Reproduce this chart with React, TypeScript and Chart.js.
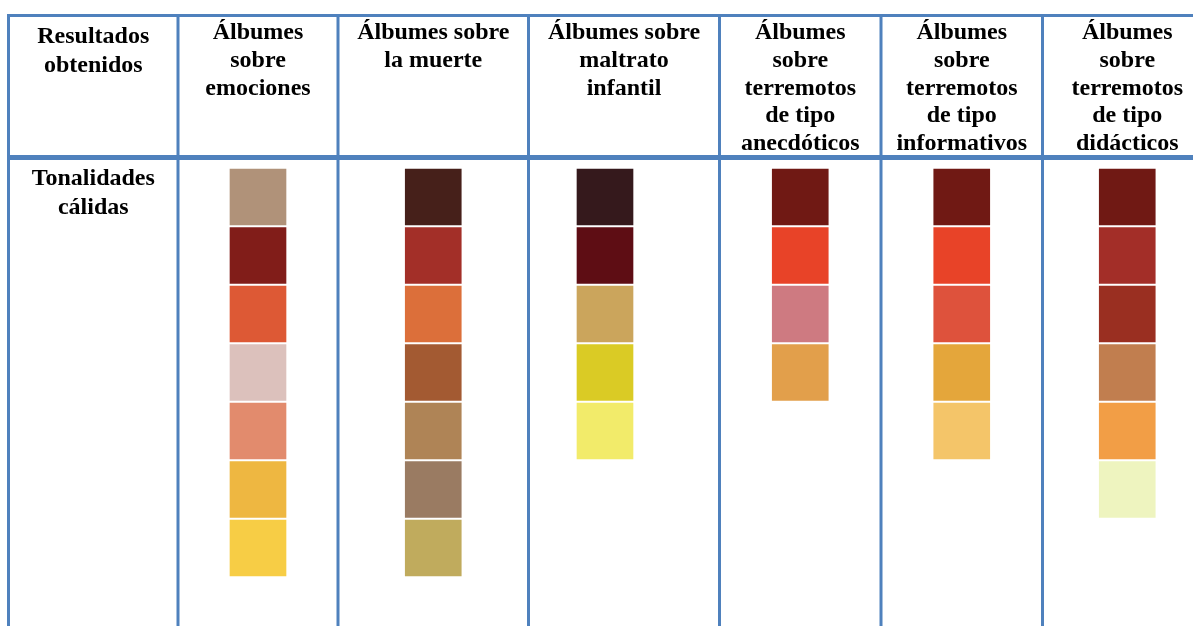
import React, { useEffect, useRef } from "react";
import { Chart, registerables } from "chart.js";

Chart.register(...registerables);

// ---------- DATA ----------
const ROW_HEADER = ["Resultados", "obtenidos"];
const ROW_LABEL = ["Tonalidades", "cálidas"];

const COLUMN_HEADERS: string[][] = [
  ["Álbumes", "sobre", "emociones"],
  ["Álbumes sobre", "la muerte"],
  ["Álbumes sobre", "maltrato", "infantil"],
  ["Álbumes", "sobre", "terremotos", "de tipo", "anecdóticos"],
  ["Álbumes", "sobre", "terremotos", "de tipo", "informativos"],
  ["Álbumes", "sobre", "terremotos", "de tipo", "didácticos"],
];

const EMOCIONES = ["#B09279", "#811D19", "#DD5935", "#DCC1BC", "#E28B6D", "#EEB741", "#F7CD45"];
const MUERTE = ["#46201A", "#A32F28", "#DC6F3A", "#A35A32", "#AF8456", "#9A7B62", "#C0AB5D"];
const MALTRATO = ["#35191C", "#5E0D14", "#CBA55C", "#DACB25", "#F2EB6A"];
const ANECDOTICOS = ["#701914", "#E84328", "#CE7A81", "#E29F4B"];
const INFORMATIVOS = ["#701914", "#E84328", "#DE523C", "#E4A63B", "#F4C569"];
const DIDACTICOS = ["#701914", "#A32E28", "#9A2F21", "#C17E4F", "#F29E46", "#EEF4BF"];

const SWATCH_COLUMNS = [EMOCIONES, MUERTE, MALTRATO, ANECDOTICOS, INFORMATIVOS, DIDACTICOS];

// ---------- LAYOUT / STYLE ----------
const W = 1193;
const H = 626;
const GRID_X = [8.5, 178, 338, 528.5, 719.5, 881, 1042.5, 1212]; // table column boundaries (x-scale units)
const CELL_ALIGN_SHIFT = [0, 0, -19, 0, 0, 0]; // horizontal alignment of swatches within each cell
const Y_MIN = -169 / 58.5; // y-scale in swatch-row units
const Y_MAX = (H - 169) / 58.5;
const SWATCH_FILL = 0.955;
const LINE_COLOR = "#4F81BD";
const FONT = "bold 24px 'Liberation Serif', 'Times New Roman', serif";

const colCenter = (k: number) => (GRID_X[k] + GRID_X[k + 1]) / 2;

const tablePlugin = {
  id: "tablePlugin",
  afterDatasetsDraw(chart: any) {
    const ctx = chart.ctx as CanvasRenderingContext2D;
    const xs = chart.scales.x;
    ctx.save();
    ctx.strokeStyle = LINE_COLOR;
    const left = xs.getPixelForValue(GRID_X[0]) - 1.5;
    // top border
    ctx.lineWidth = 3;
    ctx.beginPath();
    ctx.moveTo(left, 15.5);
    ctx.lineTo(W, 15.5);
    ctx.stroke();
    // header bottom border
    ctx.lineWidth = 5;
    ctx.beginPath();
    ctx.moveTo(left, 157.5);
    ctx.lineTo(W, 157.5);
    ctx.stroke();
    // vertical lines
    ctx.lineWidth = 3;
    for (let i = 0; i < GRID_X.length - 1; i++) {
      const px = xs.getPixelForValue(GRID_X[i]);
      ctx.beginPath();
      ctx.moveTo(px, 14);
      ctx.lineTo(px, H);
      ctx.stroke();
    }
    // texts
    ctx.fillStyle = "#000";
    ctx.font = FONT;
    ctx.textAlign = "center";
    ctx.textBaseline = "alphabetic";
    const c0 = xs.getPixelForValue(colCenter(0));
    ROW_HEADER.forEach((t, i) => ctx.fillText(t, c0, 43 + 28.7 * i));
    ROW_LABEL.forEach((t, i) => ctx.fillText(t, c0, 185 + 29 * i));
    COLUMN_HEADERS.forEach((lines, k) => {
      const cx = xs.getPixelForValue(colCenter(k + 1));
      lines.forEach((t, i) => ctx.fillText(t, cx, 39 + 27.8 * i));
    });
    ctx.restore();
  },
};

export default function App() {
  const ref = useRef<HTMLCanvasElement>(null);

  useEffect(() => {
    document.body.style.margin = "0";
    const canvas = ref.current;
    if (!canvas) return;

    const data: any[] = [];
    const colors: string[] = [];
    SWATCH_COLUMNS.forEach((col, k) => {
      col.forEach((c, i) => {
        data.push({ x: colCenter(k + 1) + CELL_ALIGN_SHIFT[k], y: [i, i + SWATCH_FILL] });
        colors.push(c);
      });
    });

    const chart = new Chart(canvas, {
      type: "bar",
      data: {
        datasets: [
          {
            label: "Tonalidades cálidas",
            data,
            backgroundColor: colors,
            borderWidth: 0,
            barThickness: 56,
          } as any,
        ],
      },
      options: {
        animation: false,
        responsive: false,
        maintainAspectRatio: false,
        devicePixelRatio: 1,
        layout: { padding: 0 },
        plugins: { legend: { display: false }, tooltip: { enabled: false } },
        scales: {
          x: { type: "linear", min: 0, max: W, offset: false, display: false, grid: { offset: false } },
          y: { type: "linear", min: Y_MIN, max: Y_MAX, reverse: true, display: false },
        },
      },
      plugins: [tablePlugin],
    });
    return () => chart.destroy();
  }, []);

  return (
    <div style={{ width: W, height: H, background: "#fff" }}>
      <canvas ref={ref} width={W} height={H} style={{ display: "block", width: W, height: H }} />
    </div>
  );
}
